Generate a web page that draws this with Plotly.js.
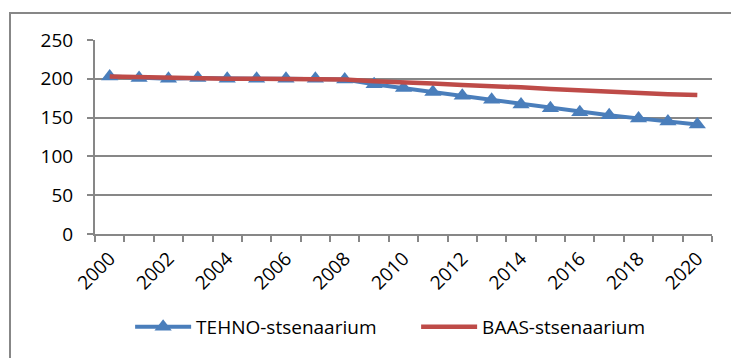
<!DOCTYPE html>
<html>
<head>
<meta charset="utf-8">
<script src="https://cdn.plot.ly/plotly-3.0.1.min.js"></script>
<style>
html,body{margin:0;padding:0;background:#fff;overflow:hidden;}
#frame{position:absolute;left:9px;top:12px;width:800px;height:400px;border:2px solid #878787;box-sizing:border-box;}
#chart{position:absolute;left:0;top:0;width:731px;height:358px;}
</style>
</head>
<body>
<div id="frame"></div>
<div id="chart"></div>
<script>
const years = [2000,2001,2002,2003,2004,2005,2006,2007,2008,2009,2010,2011,2012,2013,2014,2015,2016,2017,2018,2019,2020];
const tehno = [203,201,200,201,200,200,200,200,199,193,188,183,178,173,167,162,157,153,149,145,141];
const baas  = [203,202,201,200,200,200,200,200,199,197,196,194,192,191,189,187,185,183,182,180,179];
const tickLabels = ['2000','2002','2004','2006','2008','2010','2012','2014','2016','2018','2020'];
const tickYears = [2000,2002,2004,2006,2008,2010,2012,2014,2016,2018,2020];

const font = {family: 'Open Sans, Lato, sans-serif', size: 19, color: '#000'};

const traces = [
  {x: years, y: tehno, name: 'TEHNO-stsenaarium', type: 'scatter', mode: 'lines+markers',
   line: {color: '#4A7EBB', width: 4}, marker: {symbol: 'triangle-up', size: 15, color: '#4A7EBB'}},
  {x: years, y: baas, name: 'BAAS-stsenaarium', type: 'scatter', mode: 'lines',
   line: {color: '#BE4B48', width: 4.5}}
];

const layout = {
  width: 731, height: 358,
  margin: {l: 95, r: 19, t: 40, b: 124},
  paper_bgcolor: 'rgba(0,0,0,0)', plot_bgcolor: 'rgba(0,0,0,0)',
  font: font,
  showlegend: true,
  legend: {orientation: 'h', x: 0.178, xanchor: 'left', xref: 'container',
           y: 0.087, yanchor: 'middle', yref: 'container',
           font: font, itemwidth: 56, entrywidth: 215, entrywidthmode: 'pixels',
           traceorder: 'normal', tracegroupgap: 0},
  xaxis: {range: [1999.5, 2020.5], tickvals: tickYears, ticktext: tickLabels, tickangle: -45,
          ticks: '', showgrid: false, zeroline: false, showline: true, linecolor: '#878787', linewidth: 2,
          minor: {tick0: 1999.5, dtick: 1, ticks: 'outside', ticklen: 6, tickcolor: '#878787', tickwidth: 2, showgrid: false},
          tickfont: font, automargin: false, ticklabelstandoff: 4, fixedrange: true},
  yaxis: {range: [0, 250], tick0: 0, dtick: 50, ticks: 'outside', ticklen: 6, tickcolor: '#878787', tickwidth: 2,
          showgrid: true, gridcolor: '#878787', gridwidth: 2, zeroline: false, showline: true,
          linecolor: '#878787', linewidth: 2, tickfont: font, automargin: false, ticklabelstandoff: 10, fixedrange: true}
};

Plotly.newPlot('chart', traces, layout, {displayModeBar: false, staticPlot: true});
</script>
</body>
</html>
